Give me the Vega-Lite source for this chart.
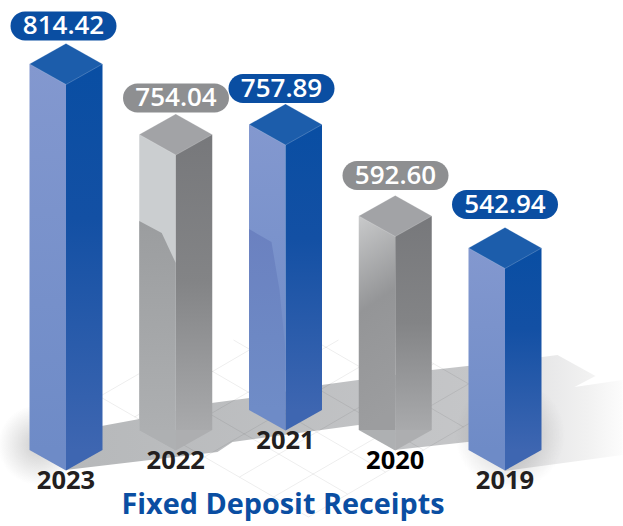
{"$schema":"https://vega.github.io/schema/vega-lite/v6.json","width":623,"height":526,"padding":0,"autosize":"none","background":"white","config":{"view":{"stroke":null}},
"datasets":{"bars":[{"year":2023,"value":814.42,"row":0,"tone":"blue"},{"year":2022,"value":754.04,"row":20,"tone":"grey"},{"year":2021,"value":757.89,"row":40,"tone":"blue"},{"year":2020,"value":592.60,"row":20,"tone":"grey"},{"year":2019,"value":542.94,"row":0,"tone":"blue"}]},
"data":{"name":"bars"},
"resolve":{"scale":{"x":"independent","y":"independent","fill":"independent"}},
"layer":[
{"encoding":{"x":{"field":"year","type":"quantitative","axis":null,"scale":{"domain":[2023,2019],"range":[66,505],"zero":false,"nice":false,"padding":0}},"y":{"field":"value","type":"quantitative","axis":null,"scale":{"domain":[0,40,542.94,592.6,754.04,757.89,814.42],"range":[450,410,248,216,134.5,124.5,64],"zero":false,"nice":false,"padding":0}}},
"resolve":{"scale":{"fill":"independent"}},
"layer":[
{"transform":[{"filter":"datum.year==2021"}],"mark":{"type":"point","filled":true,"opacity":1,"strokeWidth":0,"size":4,"yOffset":40,"fill":{"gradient":"linear","x1":0,"y1":0,"x2":1,"y2":0,"stops":[{"offset":0,"color":"#b6b8ba"},{"offset":1,"color":"#c6c7c9"}]},"shape":"M-220,20 L-68,2 L-53,-8 L73,-25 L109,0 L182,-8 L219,-10 L219,-88 L182,-84 L146,-80 L36,-65 L-36,-52 L-74,-47 L-146,-31 L-184,-24 Z"},"encoding":{"y":{"field":"row","type":"quantitative"}}},
{"transform":[{"filter":"datum.year==2021"}],"mark":{"type":"point","filled":true,"opacity":1,"strokeWidth":0,"size":4,"yOffset":40,"fill":{"gradient":"linear","x1":0,"y1":0,"x2":1,"y2":0,"stops":[{"offset":0,"color":"#d6d6d7"},{"offset":0.3,"color":"#e6e6e7"},{"offset":0.7,"color":"#f1f1f1"},{"offset":1,"color":"#fcfcfc"}]},"shape":"M219,21 L337,5 L337,-70 L289,-63 L310,-74 L272,-95 L219,-88 Z"},"encoding":{"y":{"field":"row","type":"quantitative"}}},
{"transform":[{"filter":"datum.year==2023"}],"mark":{"type":"point","shape":"circle","filled":true,"opacity":1,"strokeWidth":0,"size":6400,"xOffset":-28,"yOffset":-5,"fill":{"gradient":"radial","x1":0.5,"y1":0.5,"r1":0,"x2":0.5,"y2":0.5,"r2":0.5,"stops":[{"offset":0,"color":"rgba(130,130,130,0.4)"},{"offset":0.5,"color":"rgba(130,130,130,0.2)"},{"offset":1,"color":"rgba(130,130,130,0)"}]}},"encoding":{"y":{"field":"row","type":"quantitative"}}},
{"transform":[{"filter":"datum.year==2019"}],"mark":{"type":"point","shape":"circle","filled":true,"opacity":1,"strokeWidth":0,"size":12100,"xOffset":5,"yOffset":-15,"fill":{"gradient":"radial","x1":0.5,"y1":0.5,"r1":0,"x2":0.5,"y2":0.5,"r2":0.5,"stops":[{"offset":0,"color":"rgba(120,120,120,0.4)"},{"offset":0.5,"color":"rgba(120,120,120,0.2)"},{"offset":1,"color":"rgba(120,120,120,0)"}]}},"encoding":{"y":{"field":"row","type":"quantitative"}}},
{"transform":[{"filter":"datum.year==2021"}],"mark":{"type":"point","filled":false,"opacity":1,"stroke":"#000000","strokeOpacity":0.07,"strokeWidth":1,"size":4,"yOffset":40,"shape":"M107,-110 L218,-46 M28,-110 L178,-23 M-52,-110 L138,0 M-127,-110 L100,22 M-146,-77 L62,44 M-185,-53 L23,67 M-185,-54 L-88,-110 M-151,-33 L-19,-110 M-115,-13 L53,-110 M-81,7 L124,-112 M-46,27 L148,-86 M-12,47 L183,-66 M23,67 L217,-46"},"encoding":{"y":{"field":"row","type":"quantitative"}}},
{"transform":[{"filter":"datum.tone=='blue'"}],"mark":{"type":"bar","size":36.5,"xOffset":-18.25,"fill":{"gradient":"linear","x1":0,"y1":0,"x2":0,"y2":1,"stops":[{"offset":0,"color":"#8398cf"},{"offset":1,"color":"#6e8bc7"}]}},"encoding":{"y2":{"field":"row"}}},
{"transform":[{"filter":"datum.year==2022"}],"mark":{"type":"bar","size":36.5,"xOffset":-18.25,"fill":"#cbced0"},"encoding":{"y2":{"field":"row"}}},
{"transform":[{"filter":"datum.year==2020"}],"mark":{"type":"bar","size":36.5,"xOffset":-18.25,"fill":{"gradient":"linear","x1":0,"y1":0,"x2":0.12,"y2":1,"stops":[{"offset":0,"color":"#c9cacb"},{"offset":0.45,"color":"#949597"},{"offset":1,"color":"#9c9d9f"}]}},"encoding":{"y2":{"field":"row"}}},
{"transform":[{"filter":"datum.tone=='blue'"}],"mark":{"type":"bar","size":36.5,"xOffset":18.25,"fill":{"gradient":"linear","x1":0,"y1":0,"x2":0,"y2":1,"stops":[{"offset":0,"color":"#094ea3"},{"offset":0.4,"color":"#1350a4"},{"offset":1,"color":"#3e66b1"}]}},"encoding":{"y2":{"field":"row"}}},
{"transform":[{"filter":"datum.tone=='grey'"}],"mark":{"type":"bar","size":36.5,"xOffset":18.25,"fill":{"gradient":"linear","x1":0,"y1":0,"x2":0,"y2":1,"stops":[{"offset":0,"color":"#77787b"},{"offset":0.5,"color":"#838486"},{"offset":1,"color":"#a9aaac"}]}},"encoding":{"y2":{"field":"row"}}},
{"transform":[{"filter":"datum.year==2022"}],"mark":{"type":"point","filled":true,"opacity":1,"strokeWidth":0,"size":4,"fill":{"gradient":"linear","x1":0,"y1":0,"x2":0,"y2":1,"stops":[{"offset":0,"color":"#9b9d9f"},{"offset":1,"color":"#afb1b3"}]},"shape":"M-36.5,0 L-36.5,-209 L-14,-197 L0,-167 L0,20 Z"},"encoding":{"y":{"field":"row","type":"quantitative"}}},
{"transform":[{"filter":"datum.year==2021"}],"mark":{"type":"point","filled":true,"opacity":1,"strokeWidth":0,"size":4,"fill":{"gradient":"linear","x1":0,"y1":0,"x2":0,"y2":1,"stops":[{"offset":0,"color":"#6b81c0"},{"offset":0.6,"color":"#6d88c4"},{"offset":1,"color":"#6f8cc7"}]},"shape":"M-36.5,0 L-36.5,-181 L-14,-168 L-6,-120 L0,-60 L0,0 Z"},"encoding":{"y":{"field":"row","type":"quantitative"}}},
{"mark":{"type":"point","filled":true,"opacity":1,"strokeWidth":0,"size":4,"shape":"M-36.5,0 L0,0 L0,20.5 Z"},"encoding":{"y":{"field":"row","type":"quantitative"},"fill":{"field":"tone","type":"nominal","legend":null,"scale":{"domain":["blue","grey"],"range":["#6e8bc7","#aeb0b2"]}}}},
{"mark":{"type":"point","filled":true,"opacity":1,"strokeWidth":0,"size":4,"shape":"M36.5,0 L0,0 L0,20.5 Z"},"encoding":{"y":{"field":"row","type":"quantitative"},"fill":{"field":"tone","type":"nominal","legend":null,"scale":{"domain":["blue","grey"],"range":["#3e66b1","#adaeb0"]}}}},
{"mark":{"type":"point","filled":true,"opacity":1,"stroke":"#ffffff","strokeOpacity":0.35,"strokeWidth":0.6,"size":4,"shape":"M-36.5,0 L0,-20.5 L36.5,0 L0,20.5 Z"},"encoding":{"fill":{"field":"tone","type":"nominal","legend":null,"scale":{"domain":["blue","grey"],"range":["#1c5dab","#a2a3a6"]}}}},
{"mark":{"type":"text","font":"Open Sans","fontWeight":700,"fontSize":25.5,"yOffset":31,"align":"center","baseline":"middle"},"encoding":{"y":{"field":"row","type":"quantitative"},"text":{"field":"year","type":"nominal"},"color":{"condition":{"test":"datum.year==2020","value":"#000000"},"value":"#231f20"}}},
{"transform":[{"filter":"datum.year==2021"}],"mark":{"type":"text","text":"Fixed Deposit Receipts","font":"Open Sans","fontWeight":700,"fontSize":28.8,"xOffset":-2.5,"yOffset":95,"align":"center","baseline":"middle","color":"#0a4ea2"},"encoding":{"y":{"field":"row","type":"quantitative"}}}
]},
{"encoding":{"x":{"field":"year","type":"quantitative","axis":null,"scale":{"domain":[2023,2022,2021,2020,2019],"range":[63.5,176,281.5,395.5,505],"zero":false,"nice":false}},"y":{"field":"value","type":"quantitative","axis":null,"scale":{"domain":[542.94,592.6,754.04,757.89,814.42],"range":[204.5,175.5,98,88.5,26],"zero":false,"nice":false}}},
"layer":[
{"mark":{"type":"point","filled":true,"opacity":1,"strokeWidth":0,"size":4,"shape":"M-38.5,-14.5 L38.5,-14.5 A14.5,14.5 0 0 1 38.5,14.5 L-38.5,14.5 A14.5,14.5 0 0 1 -38.5,-14.5 Z"},"encoding":{"fill":{"field":"tone","type":"nominal","legend":null,"scale":{"domain":["blue","grey"],"range":["#0a4ea2","#8e8f91"]}}}},
{"mark":{"type":"text","font":"Open Sans","fontWeight":600,"fontSize":26,"align":"center","baseline":"middle","color":"white"},"encoding":{"text":{"field":"value","type":"quantitative","format":".2f"}}}
]}
]}
